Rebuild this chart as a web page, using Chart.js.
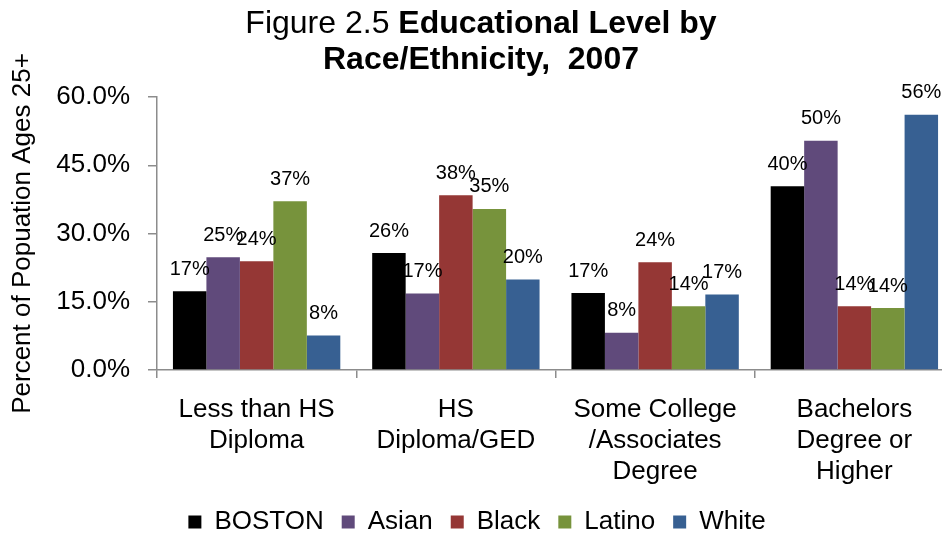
<!DOCTYPE html>
<html>
<head>
<meta charset="utf-8">
<title>Figure 2.5 Educational Level by Race/Ethnicity, 2007</title>
<script src="https://cdn.jsdelivr.net/npm/chart.js@4.4.0/dist/chart.umd.min.js"></script>
<style>
  html, body { margin: 0; padding: 0; background: #ffffff; overflow: hidden; }
  #wrap { width: 962px; height: 535px; }
</style>
</head>
<body>
<div id="wrap"><canvas id="eduChart" width="962" height="535"></canvas></div>
<script>
// 数据
const categories = [
    ['Less than HS', 'Diploma'],
    ['HS', 'Diploma/GED'],
    ['Some College', '/Associates', 'Degree'],
    ['Bachelors', 'Degree or', 'Higher']
];
const seriesNames = ['BOSTON', 'Asian', 'Black', 'Latino', 'White'];
const boston = [17.3, 25.7, 16.9, 40.4];
const asian = [24.8, 16.8, 8.2, 50.4];
const black = [23.9, 38.4, 23.7, 14.0];
const latino = [37.1, 35.4, 14.0, 13.6];
const white = [7.6, 19.9, 16.6, 56.1];
const yTicks = [0, 15, 30, 45, 60];

const seriesColors = ['#000000', '#604A7B', '#953735', '#77933C', '#376092'];
const FONT = "'Liberation Sans', Arial, sans-serif";

// 标题（部分加粗）
const titlePlugin = {
    id: 'mixedTitle',
    afterDraw(chart) {
        const ctx = chart.ctx;
        const cx = chart.width / 2;
        ctx.save();
        ctx.fillStyle = '#000';
        ctx.textBaseline = 'alphabetic';
        const normal = '32px ' + FONT;
        const bold = 'bold 32px ' + FONT;
        const p1 = 'Figure 2.5 ';
        const p2 = 'Educational Level by';
        ctx.font = normal;
        const w1 = ctx.measureText(p1).width;
        ctx.font = bold;
        const w2 = ctx.measureText(p2).width;
        let x = cx - (w1 + w2) / 2;
        ctx.textAlign = 'left';
        ctx.font = normal;
        ctx.fillText(p1, x, 33);
        ctx.font = bold;
        ctx.fillText(p2, x + w1, 33);
        ctx.textAlign = 'center';
        ctx.fillText('Race/Ethnicity,  2007', cx, 69);
        ctx.restore();
    }
};

// 柱顶数值标签
const barLabelPlugin = {
    id: 'barLabels',
    afterDatasetsDraw(chart) {
        const ctx = chart.ctx;
        ctx.save();
        ctx.font = '20px ' + FONT;
        ctx.fillStyle = '#000';
        ctx.textAlign = 'center';
        ctx.textBaseline = 'middle';
        chart.data.datasets.forEach((ds, i) => {
            chart.getDatasetMeta(i).data.forEach((bar, j) => {
                ctx.fillText(Math.round(ds.data[j]) + '%', bar.x, bar.y - 22);
            });
        });
        ctx.restore();
    }
};

const allSeries = [boston, asian, black, latino, white];

new Chart(document.getElementById('eduChart').getContext('2d'), {
    type: 'bar',
    data: {
        labels: categories,
        datasets: allSeries.map((values, i) => ({
            label: seriesNames[i],
            data: values,
            backgroundColor: seriesColors[i],
            borderWidth: 0,
            categoryPercentage: 0.84,
            barPercentage: 1.0
        }))
    },
    options: {
        responsive: false,
        animation: false,
        layout: {
            padding: { top: 97, right: 8, bottom: -10, left: 0 }
        },
        plugins: {
            title: { display: false },
            tooltip: { enabled: false },
            legend: {
                display: true,
                position: 'bottom',
                labels: {
                    color: '#000',
                    font: { family: FONT, size: 26 },
                    boxWidth: 13,
                    boxHeight: 13,
                    padding: 18
                }
            }
        },
        scales: {
            x: {
                grid: {
                    display: true,
                    drawOnChartArea: false,
                    offset: true,
                    tickLength: 8,
                    color: '#8c8c8c',
                    lineWidth: 1.5
                },
                border: { display: true, color: '#8c8c8c', width: 1.5 },
                ticks: {
                    color: '#000',
                    font: { family: FONT, size: 26, lineHeight: 1.2 },
                    padding: 16,
                    maxRotation: 0,
                    autoSkip: false
                },
                afterFit(scale) { scale.height = 121; }
            },
            y: {
                min: 0,
                max: 60,
                grid: {
                    display: true,
                    drawOnChartArea: false,
                    tickLength: 9,
                    color: '#8c8c8c',
                    lineWidth: 1.5
                },
                border: { display: true, color: '#8c8c8c', width: 1.5 },
                ticks: {
                    color: '#000',
                    font: { family: FONT, size: 26 },
                    padding: 18,
                    callback: v => v.toFixed(1) + '%'
                },
                afterBuildTicks(scale) {
                    scale.ticks = yTicks.map(v => ({ value: v }));
                },
                title: {
                    display: true,
                    text: 'Percent of Popuation Ages 25+',
                    color: '#000',
                    font: { family: FONT, size: 26 },
                    padding: { top: 7, bottom: 0 }
                },
                afterFit(scale) { scale.width = 157; }
            }
        }
    },
    plugins: [titlePlugin, barLabelPlugin]
});
</script>
</body>
</html>
